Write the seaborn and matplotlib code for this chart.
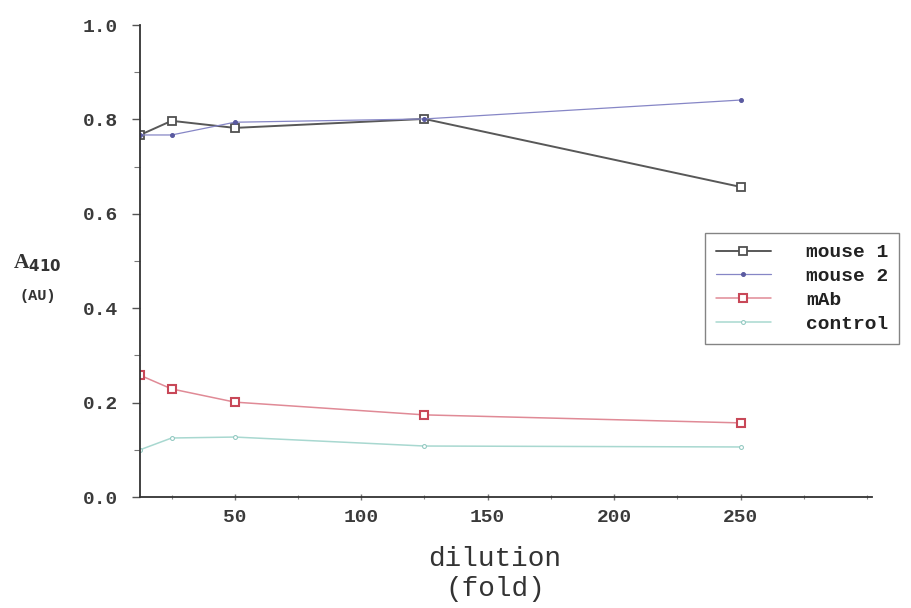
import matplotlib
matplotlib.use("Agg")
import matplotlib.pyplot as plt
from matplotlib.ticker import MultipleLocator
import pandas as pd
import seaborn as sns

dilution = [12.5, 25, 50, 125, 250]
mouse1 = [0.767, 0.797, 0.782, 0.801, 0.657]
mouse2 = [0.767, 0.767, 0.794, 0.801, 0.841]
mab = [0.258, 0.229, 0.201, 0.174, 0.157]
control = [0.100, 0.125, 0.127, 0.108, 0.106]

series = [
    ("mouse 1", mouse1, dict(color="#585858", marker="s", markersize=5.5, mfc="white", mec="#505050", mew=1.3, lw=1.4)),
    ("mouse 2", mouse2, dict(color="#8686c6", marker="o", markersize=2.8, mfc="#5a5aa0", mec="#5a5aa0", lw=0.9)),
    ("mAb", mab, dict(color="#e08a96", marker="s", markersize=5.5, mfc="white", mec="#c84858", mew=1.5, lw=1.1)),
    ("control", control, dict(color="#a8d8d0", marker="o", markersize=2.8, mfc="white", mec="#90c8c0", lw=1.1)),
]

sns.set_theme(style="white")
plt.rcParams["font.family"] = ["Liberation Mono", "DejaVu Sans Mono"]

fig = plt.figure(figsize=(9.12, 6.08), dpi=100)
ax = fig.add_axes([140 / 912, 1 - 497 / 608, (872 - 140) / 912, (497 - 25) / 608])

for name, vals, st in series:
    df = pd.DataFrame({"dilution": dilution, "A410": vals})
    sns.lineplot(data=df, x="dilution", y="A410", ax=ax, label=name, **st)

ax.set_xlim(12.5, 302)
ax.set_ylim(0, 1.0)
ax.set_xticks([50, 100, 150, 200, 250])
ax.xaxis.set_minor_locator(MultipleLocator(25))
ax.set_yticks([0.0, 0.2, 0.4, 0.6, 0.8, 1.0])
ax.set_yticklabels(["0.0", "0.2", "0.4", "0.6", "0.8", "1.0"])
ax.yaxis.set_minor_locator(MultipleLocator(0.1))
ax.set_xlabel("")
ax.set_ylabel("")

for s in ("top", "right"):
    ax.spines[s].set_visible(False)
for s in ("left", "bottom"):
    ax.spines[s].set_color("#333333")
    ax.spines[s].set_linewidth(1.3)

ax.tick_params(axis="y", which="major", direction="out", length=6, width=1, color="#555555",
               labelsize=14, labelcolor="#3a3a3a", left=True, pad=10)
ax.tick_params(axis="y", which="minor", direction="out", length=4, width=0.8, color="#777777", left=True)
ax.tick_params(axis="x", which="major", direction="inout", length=5, width=1, color="#777777",
               labelsize=14, labelcolor="#3a3a3a", bottom=True, pad=6)
ax.tick_params(axis="x", which="minor", direction="inout", length=3, width=0.8, color="#888888", bottom=True)
for lbl in ax.get_xticklabels() + ax.get_yticklabels():
    lbl.set_fontweight("bold")

leg = ax.legend(loc="upper left", bbox_to_anchor=(705 / 912, 1 - 233 / 608),
                bbox_transform=fig.transFigure, frameon=True, fancybox=False,
                fontsize=14, handlelength=2.85, handletextpad=1.8, labelspacing=0.32,
                borderpad=0.55, borderaxespad=0)
leg.get_frame().set_edgecolor("#666666")
leg.get_frame().set_linewidth(1.0)
for t in leg.get_texts():
    t.set_color("#222222")
    t.set_fontweight("bold")

fig.text(37 / 912, 1 - 263 / 608, r"A$_{\mathbf{410}}$", fontsize=15.5, fontweight="bold",
         family=["Liberation Serif", "DejaVu Serif"], color="#333333", ha="center", va="center")
fig.text(38 / 912, 1 - 296 / 608, "(AU)", fontsize=11, fontweight="bold",
         color="#333333", ha="center", va="center")

fig.text(495 / 912, 1 - 559 / 608, "dilution", fontsize=20, color="#333333", ha="center", va="center")
fig.text(495 / 912, 1 - 589 / 608, "(fold)", fontsize=20, color="#333333", ha="center", va="center")

fig.savefig("out.png", dpi=100, facecolor="white")
